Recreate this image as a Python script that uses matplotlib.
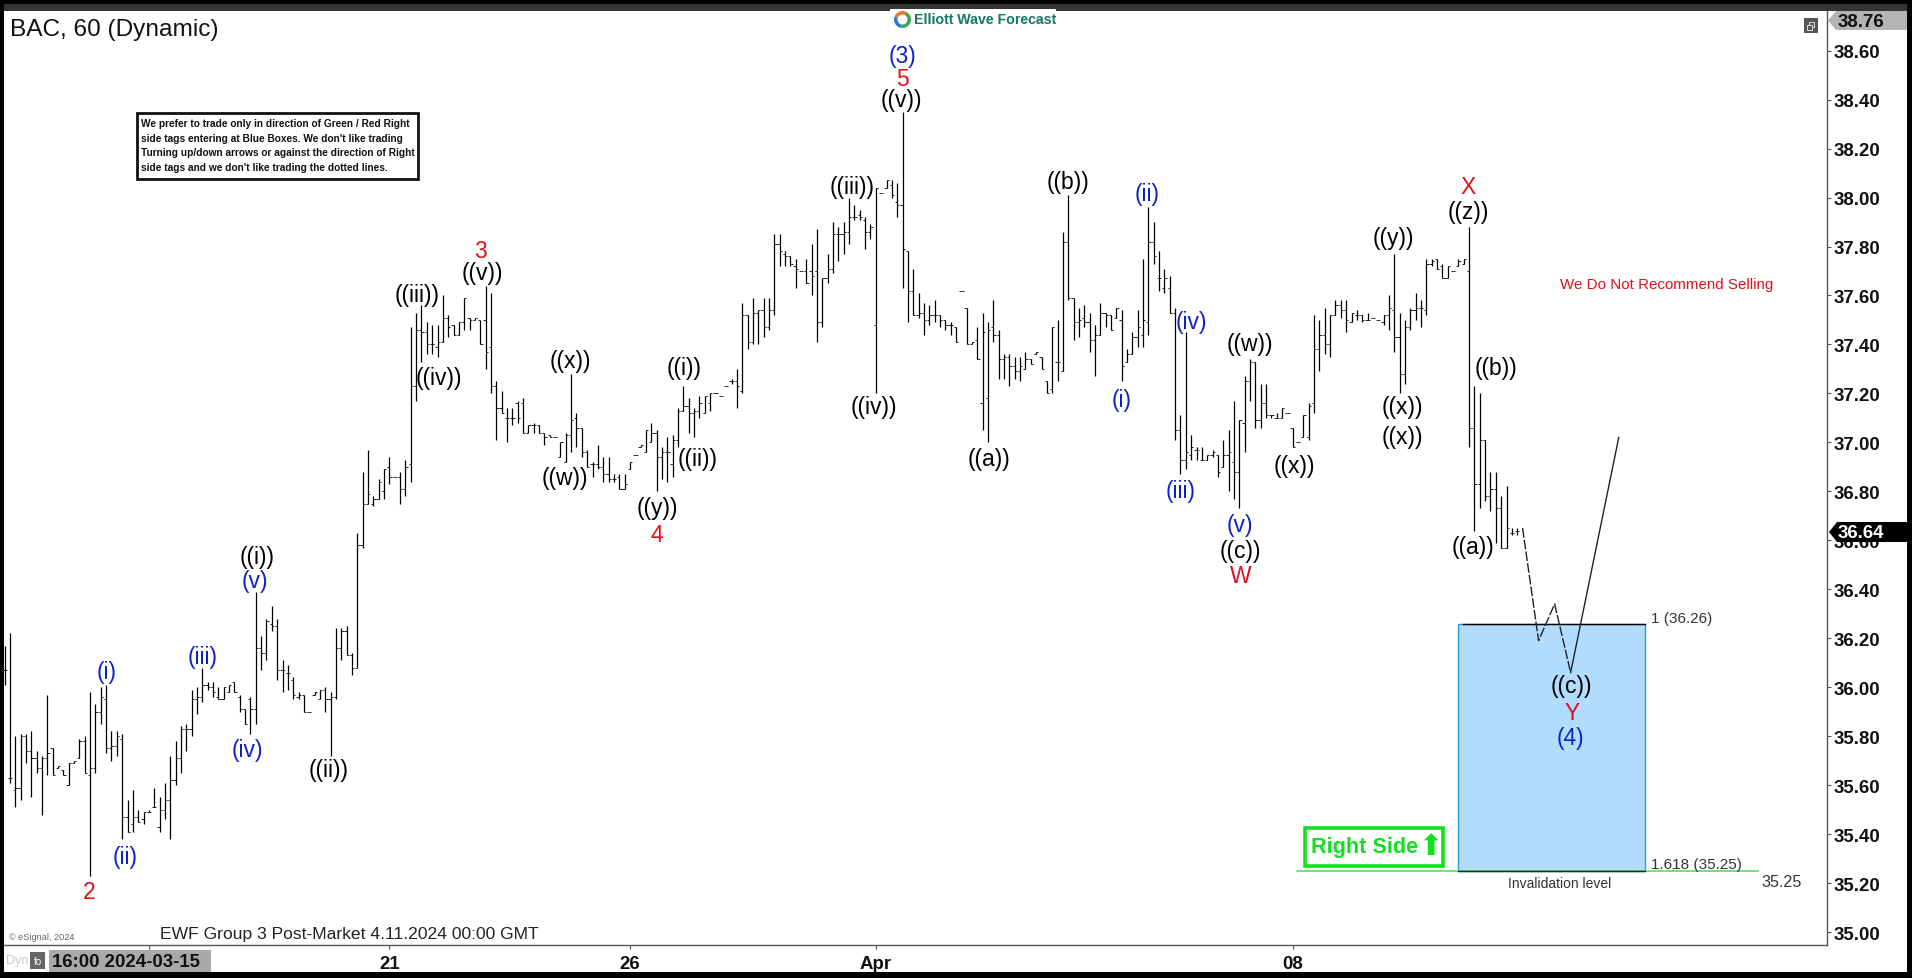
import numpy as np
import matplotlib
matplotlib.use('Agg')
import matplotlib.pyplot as plt
from matplotlib.patches import Rectangle, Polygon, Wedge

plt.rcParams['font.family'] = ['Liberation Sans', 'DejaVu Sans']

# hourly bars
highs = [36.17,36.22,35.80,35.81,35.81,35.82,35.74,35.72,35.97,35.75,
         35.68,35.66,35.69,35.70,35.79,35.80,35.98,35.93,36.00,36.01,
         35.82,35.82,35.81,35.54,35.58,35.50,35.49,35.50,35.59,35.55,
         35.61,35.72,35.78,35.84,35.85,35.99,36.00,36.08,36.02,36.02,
         36.00,36.00,36.01,36.02,35.97,35.91,35.96,36.39,36.21,36.28,
         36.33,36.28,36.11,36.09,36.04,35.98,35.97,35.90,35.98,35.99,
         36.00,35.98,36.24,36.24,36.25,36.14,36.63,36.88,36.97,36.78,
         36.85,36.89,36.94,36.86,36.88,36.93,37.47,37.53,37.56,37.49,
         37.48,37.48,37.60,37.52,37.48,37.49,37.59,37.51,37.51,37.50,
         37.64,37.61,37.25,37.21,37.14,37.14,37.17,37.18,37.07,37.08,
         37.07,37.04,37.03,37.02,37.00,37.04,37.28,37.12,37.06,36.97,
         36.92,36.99,36.94,36.94,36.87,36.87,36.87,36.92,36.95,36.99,
         37.05,37.08,37.05,36.98,37.02,37.03,37.14,37.23,37.18,37.14,
         37.19,37.19,37.20,37.20,37.19,37.23,37.26,37.30,37.57,37.52,
         37.59,37.54,37.59,37.59,37.85,37.85,37.78,37.76,37.75,37.70,
         37.75,37.81,37.87,37.67,37.77,37.90,37.88,37.90,38.00,37.97,
         37.95,37.92,37.89,38.04,38.02,38.07,38.07,38.06,38.35,37.78,
         37.71,37.61,37.57,37.56,37.58,37.52,37.50,37.49,37.47,37.62,
         37.55,37.41,37.47,37.53,37.49,37.58,37.46,37.36,37.36,37.35,
         37.35,37.37,37.34,37.37,37.35,37.25,37.47,37.50,37.86,38.01,
         37.59,37.55,37.56,37.53,37.48,37.57,37.53,37.52,37.55,37.54,
         37.38,37.45,37.54,37.75,37.96,37.90,37.78,37.71,37.68,37.55,
         37.11,37.45,37.03,36.98,36.98,36.95,36.97,36.95,37.01,37.05,
         37.17,37.09,37.27,37.34,37.33,37.24,37.24,37.11,37.12,37.14,
         37.12,37.06,37.00,37.11,37.16,37.52,37.50,37.55,37.52,37.58,
         37.58,37.58,37.53,37.54,37.52,37.53,37.51,37.50,37.52,37.60,
         37.77,37.53,37.50,37.55,37.61,37.58,37.75,37.75,37.75,37.73,
         37.72,37.70,37.75,37.75,37.88,37.23,37.20,37.01,36.88,36.88,
         36.78,36.82,36.65,36.65]
lows = [36.01,35.61,35.51,35.54,35.69,35.55,35.65,35.48,35.64,35.64,
        35.67,35.64,35.60,35.69,35.71,35.65,35.23,35.65,35.85,35.73,
        35.70,35.72,35.38,35.41,35.41,35.45,35.44,35.49,35.51,35.41,
        35.46,35.38,35.60,35.65,35.74,35.80,35.89,35.94,35.99,35.96,
        35.95,35.95,35.98,35.98,35.90,35.85,35.81,35.85,36.07,36.11,
        36.23,36.03,35.98,35.99,35.95,35.95,35.90,35.90,35.97,35.95,
        35.90,35.72,35.95,36.11,36.13,36.05,36.08,36.57,36.75,36.74,
        36.77,36.77,36.83,36.86,36.75,36.78,36.84,37.17,37.33,37.36,
        37.36,37.35,37.41,37.43,37.44,37.44,37.46,37.46,37.50,37.40,
        37.30,37.20,37.01,37.12,37.00,37.07,37.08,37.04,37.04,37.04,
        37.04,36.99,37.02,37.02,36.94,36.92,36.96,36.98,36.94,36.90,
        36.86,36.89,36.84,36.84,36.84,36.81,36.81,36.89,36.95,36.98,
        36.96,37.00,36.80,36.85,36.84,36.86,36.98,37.13,37.04,37.02,
        37.10,37.12,37.13,37.20,37.19,37.23,37.24,37.14,37.20,37.38,
        37.40,37.40,37.43,37.46,37.52,37.72,37.72,37.72,37.63,37.70,
        37.65,37.60,37.41,37.47,37.65,37.69,37.74,37.77,37.81,37.91,
        37.91,37.79,37.83,37.20,38.02,38.04,38.00,37.92,37.63,37.49,
        37.52,37.51,37.44,37.48,37.49,37.47,37.46,37.44,37.41,37.62,
        37.40,37.40,37.34,37.05,37.00,37.41,37.26,37.26,37.23,37.26,
        37.25,37.30,37.32,37.36,37.30,37.20,37.20,37.25,37.29,37.58,
        37.42,37.43,37.47,37.37,37.27,37.44,37.47,37.46,37.51,37.25,
        37.33,37.36,37.39,37.39,37.44,37.73,37.62,37.61,37.53,37.01,
        36.87,36.89,36.93,36.93,36.93,36.93,36.94,36.86,36.90,36.80,
        36.77,36.73,36.96,37.17,37.06,37.06,37.10,37.10,37.10,37.10,
        37.12,36.98,37.00,37.02,37.01,37.12,37.29,37.36,37.35,37.52,
        37.51,37.45,37.49,37.50,37.49,37.50,37.51,37.50,37.48,37.46,
        37.37,37.20,37.24,37.46,37.50,37.47,37.52,37.72,37.71,37.67,
        37.67,37.70,37.72,37.73,36.98,36.64,36.73,36.76,36.72,36.59,
        36.57,36.57,36.62,36.62]
opens = [36.07,35.63,35.58,35.59,35.80,35.74,35.71,35.67,35.71,35.75,
         35.67,35.66,35.60,35.69,35.71,35.78,35.64,35.67,35.90,35.95,
         35.75,35.76,35.79,35.47,35.44,35.47,35.46,35.49,35.51,35.43,
         35.50,35.54,35.62,35.71,35.83,35.83,35.95,35.96,36.01,36.00,
         35.96,35.95,35.98,36.02,35.96,35.91,35.95,35.91,36.16,36.14,
         36.26,36.25,36.07,36.06,36.03,35.96,35.97,35.90,35.97,35.95,
         35.99,35.95,35.96,36.16,36.23,36.13,36.08,36.58,36.75,36.75,
         36.77,36.80,36.90,36.86,36.86,36.81,36.91,37.23,37.46,37.45,
         37.40,37.39,37.41,37.51,37.48,37.44,37.49,37.51,37.50,37.50,
         37.50,37.39,37.23,37.14,37.10,37.10,37.16,37.16,37.04,37.07,
         37.07,37.04,37.03,37.02,36.94,36.92,37.03,37.10,37.06,36.96,
         36.91,36.91,36.90,36.87,36.85,36.86,36.81,36.89,36.95,36.98,
         36.96,37.00,37.04,36.94,36.96,36.91,37.01,37.13,37.15,37.12,
         37.13,37.12,37.16,37.20,37.19,37.23,37.25,37.25,37.21,37.52,
         37.41,37.53,37.54,37.47,37.54,37.81,37.77,37.76,37.72,37.70,
         37.70,37.70,37.70,37.49,37.67,37.71,37.85,37.85,37.86,37.92,
         37.93,37.91,37.86,37.48,38.02,38.04,38.05,37.98,37.97,37.78,
         37.62,37.52,37.53,37.50,37.52,37.52,37.50,37.48,37.47,37.62,
         37.55,37.40,37.42,37.16,37.18,37.47,37.44,37.34,37.35,37.31,
         37.29,37.30,37.34,37.36,37.35,37.25,37.22,37.33,37.29,37.82,
         37.59,37.49,37.51,37.49,37.42,37.44,37.53,37.52,37.51,37.50,
         37.33,37.36,37.43,37.44,37.49,37.82,37.67,37.63,37.63,37.53,
         37.05,36.93,36.95,36.97,36.93,36.93,36.95,36.95,36.90,36.95,
         36.92,36.88,37.08,37.25,37.33,37.09,37.16,37.11,37.10,37.10,
         37.12,37.06,37.00,37.02,37.02,37.16,37.38,37.44,37.40,37.52,
         37.56,37.54,37.49,37.52,37.52,37.50,37.51,37.50,37.49,37.52,
         37.54,37.43,37.28,37.47,37.54,37.55,37.54,37.73,37.75,37.72,
         37.67,37.70,37.72,37.73,37.70,37.06,36.83,37.01,36.78,36.81,
         36.73,36.57,36.63,36.64]
closes = [36.07,35.63,35.59,35.80,35.74,35.71,35.67,35.71,35.73,35.64,
          35.68,35.64,35.69,35.70,35.78,35.65,35.67,35.90,35.96,35.75,
          35.76,35.80,35.47,35.41,35.47,35.45,35.49,35.49,35.51,35.50,
          35.54,35.62,35.71,35.83,35.83,35.95,35.96,36.01,36.00,35.98,
          35.95,36.00,36.01,35.98,35.91,35.85,35.91,36.16,36.14,36.27,
          36.25,36.07,36.07,36.06,35.97,35.97,35.90,35.90,35.98,35.99,
          35.95,35.96,36.16,36.23,36.13,36.08,36.58,36.75,36.79,36.77,
          36.84,36.89,36.86,36.86,36.81,36.90,37.23,37.46,37.45,37.40,
          37.40,37.41,37.51,37.47,37.44,37.49,37.59,37.50,37.51,37.40,
          37.37,37.23,37.14,37.12,37.10,37.10,37.10,37.04,37.07,37.07,
          37.04,37.02,37.02,37.02,37.00,37.03,37.09,37.06,36.96,36.90,
          36.91,36.90,36.87,36.85,36.85,36.81,36.83,36.92,36.95,36.99,
          37.05,37.04,36.94,36.96,36.96,37.01,37.13,37.15,37.12,37.13,
          37.16,37.19,37.20,37.20,37.19,37.23,37.25,37.23,37.52,37.41,
          37.53,37.54,37.47,37.54,37.81,37.78,37.76,37.73,37.71,37.70,
          37.65,37.68,37.49,37.67,37.71,37.85,37.85,37.86,37.92,37.92,
          37.92,37.86,37.88,38.04,38.02,38.07,38.01,37.97,37.79,37.62,
          37.52,37.53,37.50,37.52,37.52,37.50,37.48,37.48,37.41,37.62,
          37.40,37.41,37.34,37.45,37.46,37.44,37.34,37.35,37.31,37.29,
          37.31,37.34,37.32,37.37,37.30,37.20,37.47,37.33,37.82,37.59,
          37.49,37.50,37.49,37.42,37.44,37.53,37.52,37.46,37.55,37.31,
          37.36,37.43,37.47,37.50,37.82,37.76,37.67,37.67,37.53,37.05,
          36.93,36.96,36.98,36.97,36.93,36.95,36.96,36.88,36.95,36.96,
          36.88,37.09,37.25,37.33,37.09,37.16,37.11,37.11,37.10,37.14,
          37.12,36.98,37.00,37.11,37.15,37.38,37.44,37.40,37.52,37.56,
          37.54,37.50,37.53,37.52,37.50,37.50,37.51,37.50,37.52,37.55,
          37.43,37.28,37.47,37.54,37.55,37.55,37.73,37.74,37.71,37.67,
          37.72,37.70,37.74,37.75,37.06,36.83,37.01,36.78,36.81,36.73,
          36.57,36.65,36.63,36.64]

# wave labels: text, bar, price
black_labels = [('((v))',167.7,38.40),('((iii))',158.6,38.045),('((v))',89.3,37.695),('((iii))',77.2,37.605),
                ('((iv))',81.3,37.265),('((x))',105.9,37.335),('((w))',104.8,36.855),('((y))',122.1,36.735),
                ('((i))',127.1,37.305),('((ii))',129.6,36.935),('((iv))',162.7,37.145),('((a))',184.2,36.935),
                ('((b))',199,38.065),('((w))',233,37.405),('((c))',231.2,36.56),('((x))',241.4,36.905),
                ('((y))',259.9,37.835),('((x))',261.5,37.145),('((x))',261.5,37.025),('((z))',273.8,37.945),
                ('((b))',279.1,37.305),('((a))',274.7,36.575),('((c))',293.2,36.005),('((i))',47.3,36.535),
                ('((ii))',60.7,35.665)]
blue_labels = [('(3)',168,38.58),('(ii)',213.8,38.015),('(i)',209,37.175),('(iv)',222,37.495),('(iii)',220,36.805),
               ('(v)',231.2,36.665),('(4)',293,35.795),('(v)',46.8,36.435),('(i)',19,36.065),('(iii)',37,36.125),
               ('(iv)',45.5,35.745),('(ii)',22.6,35.31)]
red_labels = [('5',168,38.485),('3',89,37.785),('4',122.1,36.625),('W',231.2,36.455),('X',273.8,38.045),
              ('Y',293.2,35.895),('2',15.8,35.165)]

# projected path after the last bar
path_bars = [284, 287, 290, 293]
path_prices = [36.65, 36.19, 36.34, 36.06]
rebound_bars = [293, 302]
rebound_prices = [36.06, 37.02]

box_bars = [272, 307]
box_prices = [35.25, 36.26]
invalid_bars = [241.8, 328]
invalid_price = 35.25

y_ticks = [35.00,35.20,35.40,35.60,35.80,36.00,36.20,36.40,36.60,36.80,
           37.00,37.20,37.40,37.60,37.80,38.00,38.20,38.40,38.60]
date_bars = [27, 72, 117, 163, 241]
date_labels = ['', '21', '26', 'Apr', '08']

W, H = 1912, 979
fig = plt.figure(figsize=(W / 100, H / 100), dpi=100, facecolor='black')

def px_axes(z):
    a = fig.add_axes([0, 0, 1, 1], zorder=z)
    a.set_xlim(0, W)
    a.set_ylim(H, 0)
    a.axis('off')
    return a

# window frame behind the chart
bg = px_axes(0)
bg.add_patch(Rectangle((4, 5), 1903, 8, fc='#353535', ec='none'))
bg.add_patch(Rectangle((4, 12), 1903, 961, fc='white', ec='none'))

ax = fig.add_axes([4 / W, 1 - 946 / H, (1827 - 4) / W, (946 - 12) / H], zorder=1)
ax.patch.set_alpha(0)
ax.set_xlim(-0.11, 340.96)
ax.set_ylim(34.947, 38.762)

x = np.arange(len(highs))
ax.vlines(x, lows, highs, color='black', lw=0.9, zorder=3)
ax.hlines(opens, x - 0.42, x, color='black', lw=0.6, zorder=3)
ax.hlines(closes, x, x + 0.42, color='black', lw=0.6, zorder=3)

ax.add_patch(Rectangle((box_bars[0], box_prices[0]), box_bars[1] - box_bars[0], box_prices[1] - box_prices[0],
                       fc='#b1dcfd', ec='#2f97e6', lw=1, zorder=1))
ax.plot([box_bars[0] + 0.8, box_bars[1]], [box_prices[1], box_prices[1]], color='black', lw=1.0, zorder=2)
ax.plot(invalid_bars, [invalid_price, invalid_price], color='#3fe04a', lw=1.1, zorder=2)
ax.plot(box_bars, [invalid_price, invalid_price], color='#103010', lw=1.0, zorder=2)

ax.plot(path_bars, path_prices, color='#222222', lw=1.0, ls=(0, (7, 1.5)), zorder=4)
ax.plot(rebound_bars, rebound_prices, color='#222222', lw=1.0, zorder=4)

for labels, col in ((black_labels, 'black'), (blue_labels, '#0a22c8'), (red_labels, '#e0101c')):
    for txt, b, p in labels:
        ax.text(b, p, txt, color=col, fontsize=16.5, ha='center', va='center', zorder=5)

ax.yaxis.tick_right()
ax.set_yticks(y_ticks)
ax.set_yticklabels(['%.2f' % v for v in y_ticks], fontsize=13.4, fontweight='bold', color='#111111')
ax.tick_params(axis='y', length=3, width=0.8, pad=2, color='#555555')
ax.set_xticks(date_bars)
ax.set_xticklabels(date_labels, fontsize=13.4, fontweight='bold', color='#111111')
ax.tick_params(axis='x', length=3, width=0.8, pad=4.5, color='#555555')
for s in ('left', 'top'):
    ax.spines[s].set_visible(False)
for s in ('right', 'bottom'):
    ax.spines[s].set_color('#555555')
    ax.spines[s].set_linewidth(1)

# everything printed on top of the chart, placed in pixels
top = px_axes(2)
top.text(10, 30, 'BAC, 60 (Dynamic)', fontsize=17.6, color='#111111', va='center')
top.text(160, 935, 'EWF Group 3 Post-Market 4.11.2024 00:00 GMT', fontsize=12.6, color='#222222', va='center')
top.text(9, 938, '\u00a9 eSignal, 2024', fontsize=6.6, color='#666666', va='center')

# note box
top.add_patch(Rectangle((137, 114), 281, 66, fc='white', ec='#111111', lw=2))
note = ["We prefer to trade only in direction of Green / Red Right",
        "side tags entering at Blue Boxes. We don't like trading",
        "Turning up/down arrows or against the direction of Right",
        "side tags and we don't like trading the dotted lines."]
for i, line in enumerate(note):
    top.text(141, 124 + i * 14.6, line, fontsize=7.3, fontweight='bold', color='#111111', va='center')

# logo
top.add_patch(Rectangle((890, 10), 166, 19, fc='white', ec='none'))
top.add_patch(Wedge((902.5, 20.5), 8.5, 100, 200, width=3.5, fc='#2a7fc4', ec='none'))
top.add_patch(Wedge((902.5, 20.5), 8.5, 200, 300, width=3.5, fc='#e8792b', ec='none'))
top.add_patch(Wedge((902.5, 20.5), 8.5, 300, 100, width=3.5, fc='#3aa655', ec='none'))
top.text(914, 20.5, 'Elliott Wave Forecast', fontsize=10.2, fontweight='bold', color='#14795f', va='center')

top.text(1560, 285, 'We Do Not Recommend Selling', fontsize=10.9, color='#e0101c', va='center')

# levels
top.text(1651, 619, '1 (36.26)', fontsize=11, color='#333333', va='center')
top.text(1651, 865, '1.618 (35.25)', fontsize=11, color='#333333', va='center')
top.text(1508, 884, 'Invalidation level', fontsize=10, color='#333333', va='center')
top.text(1761, 883, '35.25', fontsize=11.6, color='#333333', va='center')

# right side tag
top.add_patch(Rectangle((1305, 829), 138, 38, fc='white', ec='#10e020', lw=2.6))
top.text(1311, 848, 'Right Side', fontsize=15.6, fontweight='bold', color='#10e020', va='center')
top.text(1430, 847, '\u2b06', fontsize=21, family='DejaVu Sans', color='#10e020', ha='center', va='center')

# price tags on the axis
top.add_patch(Polygon([(1828, 21.5), (1836, 12), (1907, 12), (1907, 31), (1836, 31)], fc='#b4b4b4', ec='none'))
top.text(1838, 22.5, '38.76', fontsize=13.4, fontweight='bold', color='#111111', va='center')
top.add_patch(Polygon([(1829, 533), (1837, 523), (1907, 523), (1907, 543), (1837, 543)], fc='black', ec='none'))
top.text(1838, 533.5, '36.64', fontsize=13.4, fontweight='bold', color='white', va='center')

# window icon
top.add_patch(Rectangle((1804, 19), 14, 15, fc='#555555', ec='none'))
top.add_patch(Rectangle((1809, 23), 5, 5, fc='none', ec='#dddddd', lw=0.7))
top.add_patch(Rectangle((1807, 26), 5, 5, fc='#555555', ec='#dddddd', lw=0.7))

# date cursor
top.add_patch(Rectangle((49, 951), 162, 22, fc='#a9a9a9', ec='none'))
top.text(52, 962.5, '16:00 2024-03-15', fontsize=13.4, fontweight='bold', color='#111111', va='center')
top.text(6, 961, 'Dyn', fontsize=9, color='#c8c8c8', va='center')
top.add_patch(Rectangle((30, 953), 15, 17, fc='#666666', ec='none'))
top.text(37.5, 962, 'fo', fontsize=7, color='white', ha='center', va='center')

fig.savefig('out.png', dpi=100, facecolor=fig.get_facecolor())
